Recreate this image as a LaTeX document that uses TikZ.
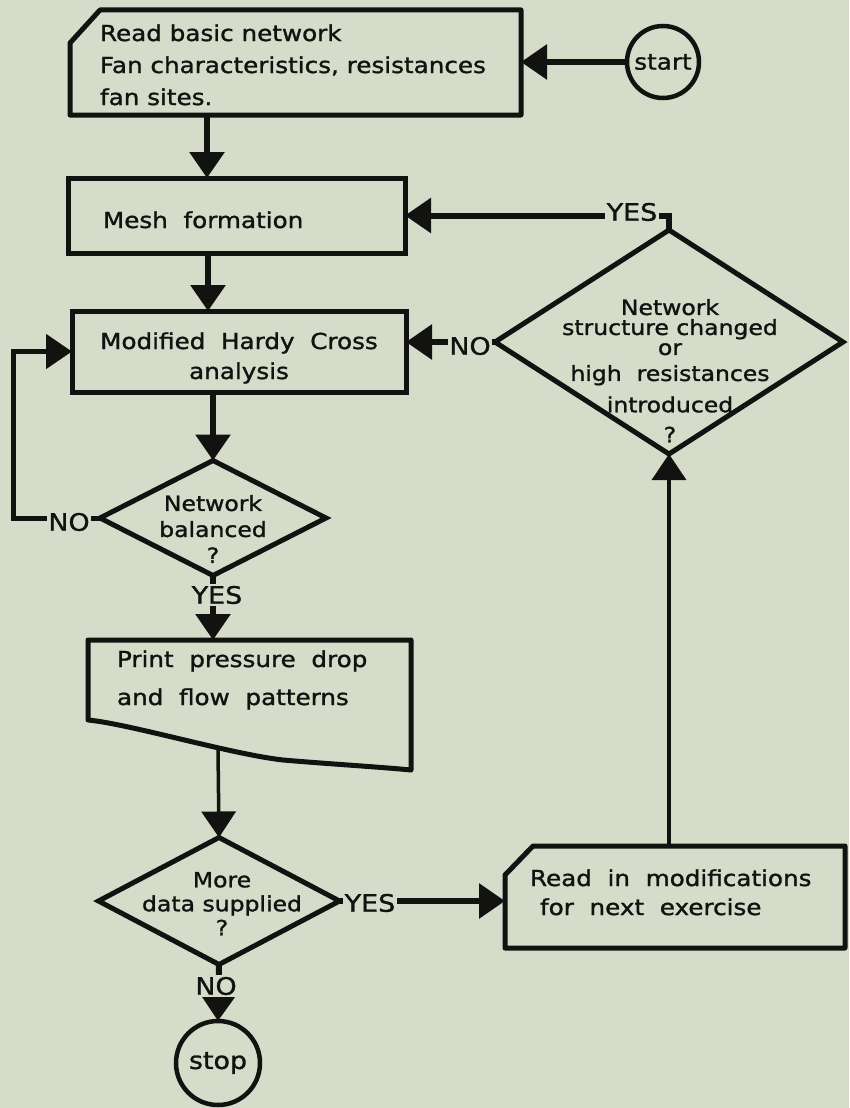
\documentclass[tikz,border=0pt]{standalone}
\usepackage{fontspec}
\setmainfont{DejaVu Sans}[FakeStretch=1.12, FakeBold=1.3]
\usetikzlibrary{shapes.geometric,arrows.meta}
\definecolor{paper}{RGB}{214,220,202}
\definecolor{ink}{RGB}{18,18,16}
\begin{document}
\begin{tikzpicture}[x=1pt,y=-1pt,
  outline/.style={draw=ink, line width=5pt, line join=round},
  hold/.style={draw=none, rectangle, inner sep=0pt, outer sep=0pt},
  box/.style={rectangle, draw=ink, line width=5pt, inner sep=0pt, outer sep=0pt},
  dia/.style={diamond, draw=ink, line width=5pt, inner sep=0pt, outer sep=0pt},
  term/.style={circle, draw=ink, line width=4.5pt, inner sep=0pt, outer sep=0pt, text=ink, font=\fontsize{22}{26}\selectfont},
  txt/.style={font=\fontsize{22}{32}\selectfont, text=ink, inner sep=0pt, outer sep=0pt},
  dtxt/.style={font=\fontsize{21}{20}\selectfont, text=ink, inner sep=0pt, outer sep=0pt, align=center},
  lab/.style={font=\fontsize{24}{26}\selectfont, text=ink, fill=paper, inner sep=1.5pt},
  conn/.style={draw=ink, line width=6pt},
  fine/.style={draw=ink, line width=3.5pt},
  tip/.style={-{Triangle[width=34pt,length=26pt]}}
]
\fill[paper] (0,0) rectangle (849,1108);
\useasboundingbox (0,0) rectangle (849,1108);

% ---------- shapes ----------
\node[hold, minimum width=451pt, minimum height=105pt] (b1) at (295.5,62.5) {};
\draw[outline] ([yshift=-33pt]b1.north west) -- ([xshift=30pt]b1.north west) -- (b1.north east) -- (b1.south east) -- (b1.south west) -- cycle;
\node[txt, align=left, anchor=north west] (t1) at (100,24.3) {Read basic network\\Fan characteristics, resistances\\fan sites.};

\node[term, minimum size=72pt] (st) at (663,62) {start};

\node[box, minimum width=337pt, minimum height=75pt] (b2) at (236.5,215.5) {};
\node[txt, anchor=base west] (t2) at (103,228) {Mesh~ formation};

\node[box, minimum width=334pt, minimum height=81pt] (b3) at (239,351.5) {};
\node[txt, align=center, anchor=north, font=\fontsize{22}{30}\selectfont] (t3) at (239,332.3) {Modified~ Hardy~ Cross\\analysis};

\node[dia, minimum width=348pt, minimum height=224pt] (d2) at (669,342) {};
\node[dtxt, anchor=north] (t4) at (670,299) {Network\\structure changed\\or\\[6pt]high~ resistances\\[10pt]introduced\\[10pt]?};

\node[dia, minimum width=226pt, minimum height=115pt] (d1) at (213,518) {};
\node[dtxt, anchor=north, font=\fontsize{21}{26}\selectfont] (t5) at (213,495) {Network\\balanced\\?};

\node[hold, minimum width=323pt, minimum height=80pt] (b4) at (249.5,680) {};
\draw[outline] (b4.south west) -- (b4.north west) -- (b4.north east) -- (411,770) .. controls (380,767) and (330,764) .. (283,760) .. controls (230,754) and (130,724) .. (b4.south west) -- cycle;
\node[txt, align=left, anchor=north west, font=\fontsize{22}{38}\selectfont] (t6) at (117,650.3) {Print~ pressure~ drop\\and~ flow~ patterns};
\coordinate (b4w) at (218,749);

\node[dia, minimum width=241pt, minimum height=127pt] (d3) at (219,901) {};
\node[dtxt, anchor=north, font=\fontsize{21}{24}\selectfont] (t7) at (222,872) {More\\data supplied\\?};

\node[hold, minimum width=340pt, minimum height=102pt] (b5) at (675,897) {};
\draw[outline] ([yshift=-29pt]b5.north west) -- ([xshift=28pt]b5.north west) -- (b5.north east) -- (b5.south east) -- (b5.south west) -- cycle;
\node[txt, align=left, anchor=north west, font=\fontsize{22}{29}\selectfont] (t8) at (530,869.3) {Read~ in~ modifications\\\hspace*{10pt}for~ next~ exercise};

\node[term, minimum size=84pt, font=\fontsize{24}{28}\selectfont] (sp) at (218,1063) {stop};

% ---------- connectors ----------
\coordinate (c1) at (207,0);
\coordinate (c2) at (208,0);
\coordinate (lp) at (13,518);

\draw[conn,tip] (st.west) -- (st.west -| b1.east);
\draw[conn,tip] (c1 |- b1.south) -- (c1 |- b2.north);
\draw[conn,tip] (d2.north) |- (b2.east);
\draw[conn,tip] (c2 |- b2.south) -- (c2 |- b3.north);
\draw[conn,tip] (d2.west) -- (d2.west -| b3.east);
\draw[conn,tip] (d1.north |- b3.south) -- (d1.north);
\draw[conn,tip, line width=5pt] (d1.west) -- (lp) |- (b3.west);
\draw[conn,tip] (d1.south) -- (d1.south |- b4.north);
\draw[fine,tip] (b4w) -- (d3.north);
\draw[conn,tip] (d3.east) -- (d3.east -| b5.west);
\draw[conn,tip] (d3.south) -- (sp.north);
\draw[fine,tip] (d2.south |- b5.north) -- (d2.south);

% ---------- labels ----------
\node[lab] (y1) at (632,212) {YES};
\node[lab] (n1) at (470,346) {NO};
\node[lab] (n2) at (69,522) {NO};
\node[lab] (y2) at (217,595) {YES};
\node[lab] (y3) at (370,903) {YES};
\node[lab] (n3) at (216,986) {NO};
\end{tikzpicture}
\end{document}
